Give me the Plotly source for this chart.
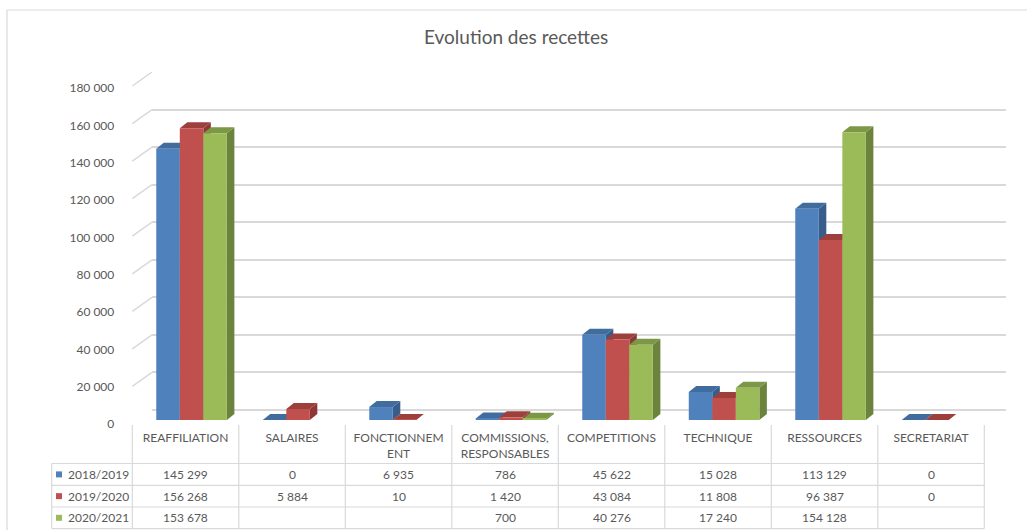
import plotly.graph_objects as go

# ---------------- data ----------------
categories = ["REAFFILIATION", "SALAIRES", "FONCTIONNEMENT", "COMMISSIONS, RESPONSABLES",
              "COMPETITIONS", "TECHNIQUE", "RESSOURCES", "SECRETARIAT"]
header_labels = ["REAFFILIATION", "SALAIRES", "FONCTIONNEM<br>ENT", "COMMISSIONS,<br>RESPONSABLES",
                 "COMPETITIONS", "TECHNIQUE", "RESSOURCES", "SECRETARIAT"]
series_names = ["2018/2019", "2019/2020", "2020/2021"]
s2018 = [145299, 0, 6935, 786, 45622, 15028, 113129, 0]
s2019 = [156268, 5884, 10, 1420, 43084, 11808, 96387, 0]
s2020 = [153678, None, None, 700, 40276, 17240, 154128, None]
y_ticks = [0, 20000, 40000, 60000, 80000, 100000, 120000, 140000, 160000, 180000]
title_text = "Evolution des recettes"

series = [s2018, s2019, s2020]
front_colors = ["#4F81BD", "#C0504D", "#9BBB59"]
side_colors = ["#385D8A", "#8C3836", "#6B833C"]
top_colors = ["#416C9E", "#9E3F3C", "#7C9746"]

W, H = 1027, 530
def PX(p): return p / W
def PY(p): return 1 - p / H

FONT = "Lato"
TXT = "#595959"
GRID = "#d9d9d9"

# geometry (pixels)
col_left, col_w = 132.3, 106.5
ncat = len(categories)
col_right = col_left + ncat * col_w
bar_zero_y, bar_top_y = 420.0, 84.0
back_left, back_right = 152.0, 1006.0
back_zero_y, back_top_y = 410.0, 72.0
front_zero_y = 424.0
ymax = 180000

bar_w = 0.221
offsets = [-0.275, -0.054, 0.167]
dx = 7.5 / col_w
dy = 6.0 * ymax / (bar_zero_y - bar_top_y)

fig = go.Figure()

# back-wall grid subplot (x, y)
fig.add_trace(go.Scatter(x=[0], y=[0], xaxis="x", yaxis="y", mode="markers",
                         marker=dict(opacity=0), showlegend=False, hoverinfo="skip"))

xs = list(range(ncat))
shapes = []
for si, (vals, name) in enumerate(zip(series, series_names)):
    px_, py_ = [], []
    for i, v in enumerate(vals):
        if v is None:
            continue
        px_.append(i)
        py_.append(v)
    fig.add_trace(go.Bar(x=px_, y=py_, name=name, xaxis="x2", yaxis="y2",
                         width=bar_w, offset=offsets[si],
                         marker=dict(color=front_colors[si], line=dict(width=0)),
                         showlegend=False))

# 3D faces
for i in range(ncat):
    for si, vals in enumerate(series):
        v = vals[i]
        if v is None:
            continue
        l = i + offsets[si]
        r = l + bar_w
        if v > 0:
            shapes.append(dict(type="path", xref="x2", yref="y2", layer="below",
                               path=f"M {r},0 L {r+dx},{dy} L {r+dx},{v+dy} L {r},{v} Z",
                               fillcolor=side_colors[si], line=dict(width=0)))
        shapes.append(dict(type="path", xref="x2", yref="y2", layer="below",
                           path=f"M {l},{v} L {l+dx},{v+dy} L {r+dx},{v+dy} L {r},{v} Z",
                           fillcolor=top_colors[si], line=dict(width=0)))

# diagonal side-wall lines from front plane to back wall
off_units = (front_zero_y - back_zero_y) * ymax / (back_zero_y - back_top_y)
for t in y_ticks:
    shapes.append(dict(type="line", xref="paper", yref="y", layer="below",
                       x0=PX(col_left), y0=t - off_units, x1=PX(back_left), y1=t,
                       line=dict(color=GRID, width=1.5)))

# outer chart border
shapes.append(dict(type="line", xref="paper", yref="paper", x0=PX(7), y0=PY(10), x1=PX(7), y1=0,
                   line=dict(color=GRID, width=1.2)))
shapes.append(dict(type="line", xref="paper", yref="paper", x0=PX(7), y0=PY(10), x1=1, y1=PY(10),
                   line=dict(color=GRID, width=1.2)))

# data table
header_top = 425.0
row_lines = [463.5, 485.3, 507.0, 528.6]
tab_left = 51.7
for k in range(ncat + 1):
    x = col_left + k * col_w
    shapes.append(dict(type="line", xref="paper", yref="paper",
                       x0=PX(x), y0=PY(header_top), x1=PX(x), y1=PY(row_lines[-1]),
                       line=dict(color=GRID, width=1.2)))
shapes.append(dict(type="line", xref="paper", yref="paper",
                   x0=PX(tab_left), y0=PY(row_lines[0]), x1=PX(tab_left), y1=PY(row_lines[-1]),
                   line=dict(color=GRID, width=1.2)))
for yl in row_lines:
    shapes.append(dict(type="line", xref="paper", yref="paper",
                       x0=PX(tab_left), y0=PY(yl), x1=PX(col_right), y1=PY(yl),
                       line=dict(color=GRID, width=1.2)))

annotations = []
annotations.append(dict(text=title_text, xref="paper", yref="paper", x=PX(516), y=PY(37),
                        xanchor="center", yanchor="middle", showarrow=False,
                        font=dict(family=FONT, size=19, color=TXT)))

def fmt(v):
    return "" if v is None else f"{v:,}".replace(",", " ")

for r, (vals, name) in enumerate(zip(series, series_names)):
    yc = (row_lines[r] + row_lines[r + 1]) / 2
    shapes.append(dict(type="rect", xref="paper", yref="paper",
                       x0=PX(56), x1=PX(62), y0=PY(yc - 3), y1=PY(yc + 3),
                       fillcolor=front_colors[r], line=dict(width=0)))
    annotations.append(dict(text=name, xref="paper", yref="paper", x=PX(66), y=PY(yc),
                            xanchor="left", yanchor="middle", showarrow=False,
                            font=dict(family=FONT, size=12, color=TXT)))
    for i, v in enumerate(vals):
        annotations.append(dict(text=fmt(v), xref="paper", yref="paper",
                                x=PX(col_left + (i + 0.5) * col_w), y=PY(yc),
                                xanchor="center", yanchor="middle", showarrow=False,
                                font=dict(family=FONT, size=12, color=TXT)))

fig.update_layout(
    width=W, height=H,
    margin=dict(l=0, r=0, t=0, b=0, pad=0, autoexpand=False),
    paper_bgcolor="white", plot_bgcolor="rgba(0,0,0,0)",
    barmode="overlay",
    separators=", ",
    showlegend=False,
    shapes=shapes,
    annotations=annotations,
    xaxis=dict(domain=[PX(back_left), PX(back_right)], range=[0, 1], automargin=False,
               showgrid=False, showticklabels=False, zeroline=False, showline=False, ticks=""),
    yaxis=dict(domain=[PY(back_zero_y), PY(back_top_y)], range=[0, ymax], tickvals=y_ticks,
               automargin=False,
               showgrid=True, gridcolor=GRID, gridwidth=1.5, zeroline=True, zerolinecolor=GRID,
               zerolinewidth=1.5, showticklabels=False, showline=False, ticks=""),
    xaxis2=dict(domain=[PX(col_left), PX(col_right)], range=[-0.5, ncat - 0.5], anchor="y2",
                automargin=False,
                tickvals=xs, ticktext=header_labels, showgrid=False, zeroline=False,
                showline=False, ticks="", ticklabelstandoff=9,
                tickfont=dict(family=FONT, size=12, color=TXT)),
    yaxis2=dict(domain=[PY(bar_zero_y), PY(bar_top_y)], range=[0, ymax], anchor="x2",
                automargin=False,
                tickvals=y_ticks, tickformat=",d", showgrid=False, zeroline=False,
                showline=False, ticks="", ticklabelshift=4, ticklabelstandoff=17,
                tickfont=dict(family=FONT, size=12, color=TXT)),
)

fig.write_html("out.html", config={"displayModeBar": False},
               post_script="document.body.style.margin='0';")
